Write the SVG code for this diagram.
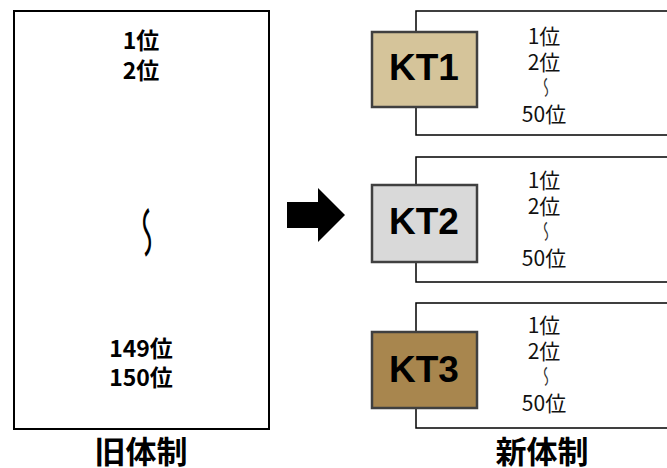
<svg xmlns="http://www.w3.org/2000/svg" width="667" height="468" viewBox="0 0 667 468">
<style>
.jp{font-family:"Noto Sans CJK JP","Noto Sans",sans-serif;}
.big{font-size:23px;font-weight:bold;text-anchor:middle;fill:#000;}
.sm{font-size:21px;text-anchor:middle;fill:#111;}
.title{font-size:31px;font-weight:bold;text-anchor:middle;fill:#000;}
.kt{font-family:"Liberation Sans",Arial,sans-serif;font-size:37px;font-weight:bold;text-anchor:middle;fill:#000;}
.outer{fill:#fff;stroke:#000;stroke-width:1.5;}
.ktbox{stroke:#404040;stroke-width:2.5;}
.wave{text-anchor:middle;dominant-baseline:central;fill:#000;}
.swave{text-anchor:middle;dominant-baseline:central;fill:#333;}
</style>
<rect width="667" height="468" fill="#fff"/>
<g id="old">
<rect x="14" y="11" width="255" height="418" fill="#fff" stroke="#000" stroke-width="2"/>
<text class="jp big" x="141" y="49">1位</text>
<text class="jp big" x="141" y="79">2位</text>
<text class="jp wave" font-size="26" transform="translate(145,232.5) scale(-1,1) rotate(90) scale(2.05,1.1)">〜</text>
<text class="jp big" x="141" y="357">149位</text>
<text class="jp big" x="141" y="386">150位</text>
<text class="jp title" x="141" y="463">旧体制</text>
</g>
<g id="connectors">
<polygon points="287,202 318,202 318,188 345,215 318,242 318,228 287,228" fill="#000"/>
</g>
<g id="kt1">
<rect class="outer" x="416" y="11" width="270" height="124"/>
<rect class="ktbox" x="372" y="32" width="105" height="75" fill="#D5C49A"/>
<text class="kt" x="424" y="80">KT1</text>
<text class="jp sm" x="544" y="44">1位</text>
<text class="jp sm" x="544" y="70">2位</text>
<text class="jp swave" font-size="14" transform="translate(545,87.5) scale(-1,1) rotate(90) scale(1.5,1)">〜</text>
<text class="jp sm" x="544" y="122">50位</text>
</g>
<g id="kt2">
<rect class="outer" x="416" y="157" width="270" height="125"/>
<rect class="ktbox" x="372" y="185" width="105" height="77" fill="#D9D9D9"/>
<text class="kt" x="424" y="234">KT2</text>
<text class="jp sm" x="544" y="188">1位</text>
<text class="jp sm" x="544" y="214">2位</text>
<text class="jp swave" font-size="14" transform="translate(545,231.5) scale(-1,1) rotate(90) scale(1.5,1)">〜</text>
<text class="jp sm" x="544" y="266">50位</text>
</g>
<g id="kt3">
<rect class="outer" x="416" y="303" width="270" height="125"/>
<rect class="ktbox" x="372" y="332" width="105" height="76" fill="#A8864E"/>
<text class="kt" x="424" y="382">KT3</text>
<text class="jp sm" x="544" y="333">1位</text>
<text class="jp sm" x="544" y="359">2位</text>
<text class="jp swave" font-size="14" transform="translate(545,376.5) scale(-1,1) rotate(90) scale(1.5,1)">〜</text>
<text class="jp sm" x="544" y="411">50位</text>
</g>
<g id="new-label">
<text class="jp title" x="542" y="463">新体制</text>
</g>
</svg>
